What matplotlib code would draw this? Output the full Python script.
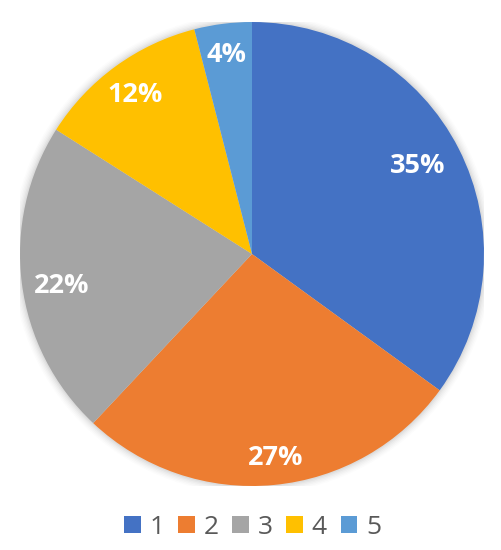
import matplotlib
matplotlib.use("Agg")
import matplotlib.pyplot as plt
from matplotlib.patches import Circle, Patch
import math

categories = ["1", "2", "3", "4", "5"]
values = [35, 27, 22, 12, 4]
colors = ["#4472C4", "#ED7D31", "#A5A5A5", "#FFC000", "#5B9BD5"]
label_dist = [0.81, 0.885, 0.833, 0.849, 0.865]
label_ang_off = [1.0, 1.3, 2.3, 0.4, 0.2]

W, H = 502, 550
fig = plt.figure(figsize=(W / 100, H / 100), dpi=100)
cx, cy, r = 252, 254, 232
ax = fig.add_axes([(cx - r) / W, (H - cy - r) / H, 2 * r / W, 2 * r / H])

# soft shadow
for i, a in enumerate([0.035, 0.03, 0.025, 0.02, 0.015, 0.01]):
    ax.add_patch(Circle((0, 0), 1 + 0.006 * (i + 1), color="black", alpha=a, lw=0, zorder=0))

wedges, texts, autotexts = ax.pie(
    values, colors=colors, startangle=90, counterclock=False, radius=1,
    autopct=lambda p: f"{p:.0f}%", pctdistance=0.85,
    wedgeprops=dict(linewidth=0, zorder=1),
    textprops=dict(color="white", fontsize=19.5, fontweight="bold", family="Open Sans"),
)
for w, t, d, o in zip(wedges, autotexts, label_dist, label_ang_off):
    ang = math.radians((w.theta1 + w.theta2) / 2 + o)
    t.set_position((d * math.cos(ang), d * math.sin(ang)))
    t.set_zorder(3)

ax.set_xlim(-1, 1)
ax.set_ylim(-1, 1)
ax.set_aspect("equal")
ax.axis("off")

handles = [Patch(facecolor=c, edgecolor="none") for c in colors]
fig.legend(handles, categories, loc="center", bbox_to_anchor=(0.503, 1 - 527 / H), ncol=5,
           frameon=False, prop=dict(family="Open Sans", size=19),
           labelcolor="#595959", handlelength=0.64, handleheight=0.64,
           handletextpad=0.32, columnspacing=0.52)

fig.savefig("out.png", dpi=100, facecolor="white")
